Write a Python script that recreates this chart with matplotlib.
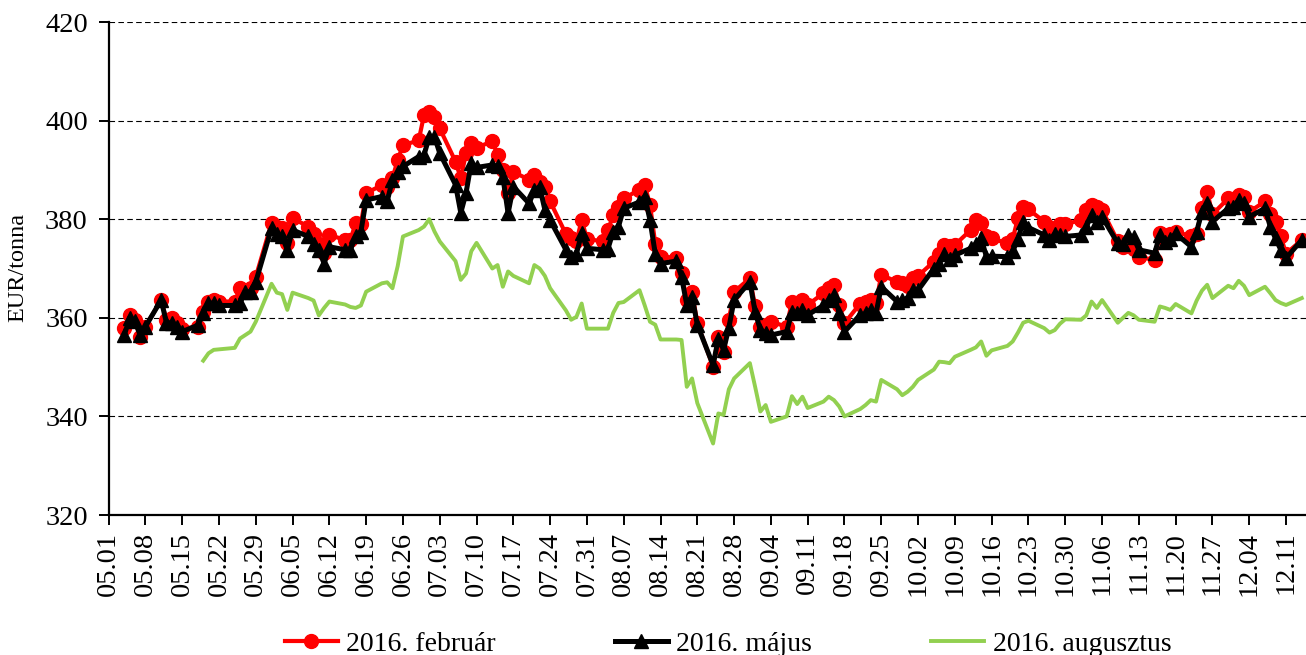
import numpy as np
import pandas as pd
import matplotlib
matplotlib.use('Agg')
import matplotlib.pyplot as plt
import matplotlib.dates as mdates

plt.rcParams['font.family'] = ['Liberation Serif', 'DejaVu Serif']

# Kereskedesi napok (hetkoznapok) 05.04 - 12.14
dates = pd.bdate_range('2015-05-04', '2015-12-14')

# 2016. februar lejarat (piros)
feb = [
    357.9, 360.6, 359.5, 356.1, 358.2,
    363.6, 359.6, 360.0, 359.0, 357.8,
    358.2, 361.2, 363.3, 363.7, 363.3,
    363.3, 366.0, 365.5, 366.0, 368.3,
    379.2, 378.5, 378.2, 375.1, 380.2,
    378.5, 377.0, 375.0, 373.1, 376.8,
    375.8, 375.8, 379.2, 379.0, 385.3,
    386.9, 386.5, 388.3, 392.0, 395.0,
    396.0, 401.1, 401.8, 400.8, 398.4,
    391.7, 388.3, 393.4, 395.4, 394.5,
    395.8, 393.0, 390.0, 385.3, 389.6,
    388.0, 389.0, 387.5, 386.5, 383.6,
    377.0, 376.1, 375.5, 379.8, 376.0,
    375.5, 377.8, 380.8, 382.5, 384.2,
    386.0, 386.9, 382.9, 375.0, 372.4,
    372.2, 369.0, 363.6, 365.3, 358.9,
    350.1, 356.2, 353.0, 359.6, 365.3,
    368.0, 362.3, 358.2, 358.5, 359.2,
    358.2, 363.3, 362.8, 363.6, 362.6,
    365.0, 366.0, 366.7, 362.6, 358.9,
    362.9, 363.3, 363.6, 363.0, 368.7,
    367.3, 367.0, 366.5, 368.0, 368.5,
    371.4, 373.0, 374.8, 374.5, 374.8,
    377.8, 379.8, 379.3, 376.5, 376.1,
    375.1, 376.0, 380.2, 382.5, 382.0,
    379.5, 378.5, 378.0, 379.0, 379.0,
    379.8, 381.9, 382.9, 382.5, 381.9,
    375.5, 374.4, 375.5, 374.0, 372.4,
    371.7, 377.1, 376.0, 377.0, 377.5,
    376.5, 377.0, 382.2, 385.6, 381.0,
    384.2, 384.0, 384.9, 384.5, 381.5,
    383.6, 381.0, 379.5, 376.5, 373.0,
    375.8,
]

# 2016. majus lejarat (fekete)
maj = [
    356.5, 360.0, 359.3, 356.5, 358.2,
    363.6, 359.0, 359.0, 358.2, 357.2,
    358.5, 361.0, 363.0, 363.0, 362.5,
    362.5, 363.0, 365.3, 365.3, 367.3,
    378.2, 377.0, 376.5, 373.8, 377.8,
    376.5, 375.0, 373.8, 371.0, 374.4,
    373.8, 373.8, 376.5, 377.5, 383.9,
    384.6, 383.6, 388.0, 389.5, 390.7,
    392.7, 393.0, 396.7, 396.7, 393.4,
    387.0, 381.3, 385.3, 391.5, 390.5,
    391.0, 390.7, 388.6, 381.2, 386.6,
    383.2, 385.9, 386.6, 381.9, 379.8,
    373.8, 372.4, 373.0, 377.1, 374.1,
    373.8, 374.0, 377.5, 378.5, 382.2,
    383.5, 384.6, 379.8, 373.0, 371.0,
    371.5, 368.3, 362.6, 364.3, 358.6,
    350.4, 355.8, 353.5, 358.0, 363.6,
    367.3, 361.2, 357.5, 357.0, 356.5,
    357.2, 361.2, 361.0, 361.6, 360.6,
    362.5, 363.6, 364.6, 361.0, 357.2,
    360.6, 360.9, 361.6, 360.9, 366.3,
    363.3, 363.6, 364.0, 365.6, 365.6,
    370.0, 371.0, 373.0, 372.0, 372.7,
    374.1, 375.0, 376.1, 372.4, 372.5,
    372.4, 373.5, 376.0, 379.5, 378.3,
    376.8, 375.8, 377.0, 376.8, 376.5,
    376.8, 378.5, 380.8, 379.5, 380.5,
    375.1, 375.0, 376.8, 376.3, 373.8,
    373.1, 376.8, 375.4, 376.0, 377.1,
    374.4, 377.5, 381.5, 383.2, 379.5,
    382.2, 382.5, 383.9, 383.2, 380.5,
    382.2, 378.5, 376.1, 373.8, 372.1,
    375.8,
]

# 2016. augusztus lejarat (zold), 05.19-tol
aug_start = '2015-05-19'
aug = [
    351.3, 352.8, 353.5, 353.6,
    353.9, 355.8, 356.5, 357.2, 359.2,
    366.9, 365.1, 364.8, 361.6, 365.1,
    364.0, 363.5, 360.5, 362.0, 363.3,
    362.7, 362.2, 362.0, 362.5, 365.3,
    367.0, 367.2, 366.0, 370.5, 376.5,
    377.8, 378.5, 380.0, 377.5, 375.5,
    371.5, 367.7, 369.0, 373.5, 375.2,
    370.0, 370.7, 366.3, 369.4, 368.5,
    367.0, 370.7, 370.0, 368.5, 366.0,
    361.5, 359.6, 360.2, 362.9, 357.8,
    357.8, 357.8, 361.0, 363.0, 363.2,
    365.6, 362.5, 359.2, 358.6, 355.6,
    355.6, 355.5, 346.0, 347.7, 342.7,
    334.5, 340.6, 340.3, 345.5, 347.7,
    350.8, 346.0, 341.0, 342.3, 338.9,
    340.0, 344.1, 342.5, 344.0, 341.7,
    343.0, 344.0, 343.3, 342.0, 340.0,
    341.5, 342.3, 343.3, 343.0, 347.4,
    345.5, 344.3, 345.0, 346.0, 347.4,
    349.5, 351.1, 351.0, 350.8, 352.1,
    353.5, 354.0, 355.2, 352.3, 353.4,
    354.3, 355.2, 357.0, 359.0, 359.4,
    357.9, 357.0, 357.5, 358.8, 359.7,
    359.6, 360.5, 363.3, 362.0, 363.6,
    359.0, 360.0, 361.0, 360.5, 359.6,
    359.2, 362.3, 362.0, 361.6, 362.8,
    360.9, 363.5, 365.5, 366.7, 364.0,
    366.5, 366.0, 367.5, 366.5, 364.6,
    366.3, 365.0, 363.6, 363.0, 362.6,
    364.0,
]
aug_dates = dates[dates >= aug_start]

labels = ['2016. február', '2016. május', '2016. augusztus']

fig = plt.figure(figsize=(13.06, 6.55), dpi=100)
ax = fig.add_axes([108.6 / 1306, 140 / 655, 1 - 108.6 / 1306, 493 / 655])

ax.plot(aug_dates, aug, color='#92D050', linewidth=2.8, label=labels[2], zorder=3)
ax.plot(dates, feb, color='#FF0000', linewidth=3.0, marker='o', markersize=10,
        label=labels[0], zorder=4)
ax.plot(dates, maj, color='black', linewidth=3.6, marker='^', markersize=10,
        label=labels[1], zorder=5)

ax.set_ylim(320, 420)
ax.set_yticks(np.arange(320, 421, 20))
start = mdates.date2num(pd.Timestamp('2015-05-01'))
ax.set_xlim(start, start + 227.8)
xt = pd.date_range('2015-05-01', '2015-12-11', freq='7D')
ax.set_xticks(xt)
ax.xaxis.set_major_formatter(mdates.DateFormatter('%m.%d'))

for y in [340, 360, 380, 400, 420]:
    ax.axhline(y, color='black', linewidth=0.8, linestyle=(0, (5, 3)), zorder=1)

for s in ['top', 'right']:
    ax.spines[s].set_visible(False)
for s in ['left', 'bottom']:
    ax.spines[s].set_linewidth(1.6)
ax.tick_params(axis='both', direction='out', length=7, width=1.4, labelsize=20.5)
ax.tick_params(axis='x', labelrotation=90, pad=5)
ax.tick_params(axis='y', pad=8)

fig.text(18 / 1306, 1 - 267 / 655, 'EUR/tonna', rotation=90, ha='center', va='center',
         fontsize=17.5)

h, l = ax.get_legend_handles_labels()
order = [1, 2, 0]
fig.legend([h[i] for i in order], [l[i] for i in order], loc='center',
           bbox_to_anchor=(728 / 1306, 11 / 655), ncol=3, frameon=False,
           fontsize=20, columnspacing=4.3, handlelength=1.9, handletextpad=0.3,
           borderaxespad=0)

fig.savefig('out.png', dpi=100)
